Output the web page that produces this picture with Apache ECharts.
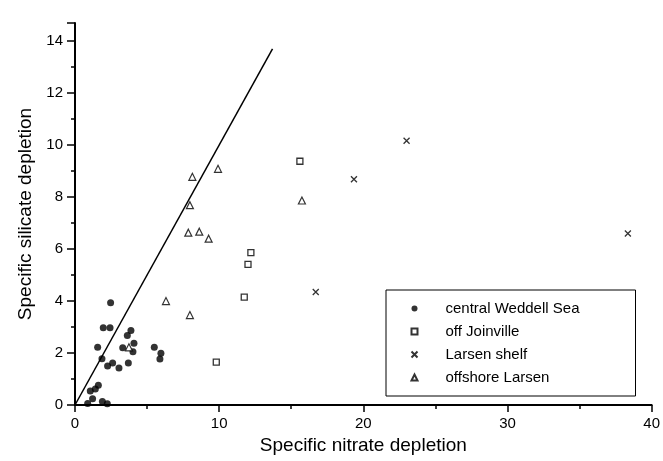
<!DOCTYPE html>
<html lang="en">
<head>
    <meta charset="UTF-8">
    <title>Specific silicate vs nitrate depletion</title>
    <style>
        *{
            margin: 0;
            padding: 0;
        }
        body{
            background: #fff;
        }
        #chart{
            width: 663px;
            height: 461px;
        }
    </style>
</head>
<body>
    <div id="chart"></div>
    <script src="https://cdn.jsdelivr.net/npm/echarts@6/dist/echarts.min.js"></script>
    <script>
        // [nitrate, silicate]
        var weddell = [
            [2.47, 3.93], [1.96, 2.97], [2.43, 2.97], [3.88, 2.87], [3.63, 2.67],
            [4.09, 2.38], [3.31, 2.20], [1.57, 2.22], [4.02, 2.05], [5.50, 2.22],
            [5.96, 1.99], [5.89, 1.77], [1.87, 1.78], [2.61, 1.62], [2.26, 1.50],
            [3.05, 1.42], [3.70, 1.62], [1.62, 0.76], [1.41, 0.62], [1.06, 0.54],
            [1.22, 0.24], [1.90, 0.13], [2.24, 0.05], [0.88, 0.06]
        ];
        var joinville = [[15.6, 9.38], [12.2, 5.86], [12.0, 5.41], [11.74, 4.15], [9.8, 1.65]];
        var larsenShelf = [[23.0, 10.17], [19.35, 8.69], [16.7, 4.35], [38.35, 6.6]];
        var offshoreLarsen = [
            [9.92, 9.09], [8.14, 8.78], [7.97, 7.69], [15.74, 7.87], [7.86, 6.63],
            [8.62, 6.67], [9.27, 6.40], [6.31, 4.0], [3.74, 2.22], [7.97, 3.46]
        ];
        // 1:1 reference line
        var ratioLine = [[0, 0], [13.7, 13.7]];
        var legendNames = ['central Weddell Sea', 'off Joinville', 'Larsen shelf', 'offshore Larsen'];

        var font = 'Liberation Sans, Arial, sans-serif';
        var chart = echarts.init(document.getElementById('chart'));

        var option = {
            animation: false,
            grid: {
                left: 75,
                right: 11,
                top: 23,
                bottom: 56
            },
            legend: {
                data: legendNames,
                orient: 'vertical',
                left: 386,
                top: 290,
                itemWidth: 6,
                itemHeight: 6,
                itemGap: 6,
                padding: [10, 30, 10, 23],
                borderColor: '#000',
                borderWidth: 1,
                selectedMode: false,
                textStyle: {
                    fontFamily: font,
                    fontSize: 15,
                    color: '#000',
                    lineHeight: 17,
                    width: 160,
                    padding: [0, 0, 0, 23]
                }
            },
            xAxis: {
                type: 'value',
                min: 0,
                max: 40,
                interval: 10,
                name: 'Specific nitrate depletion',
                nameLocation: 'middle',
                nameGap: 29,
                nameTextStyle: { fontFamily: font, fontSize: 19, color: '#000' },
                splitLine: { show: false },
                axisLine: { onZero: false, lineStyle: { color: '#000', width: 2 } },
                axisTick: { length: 7, lineStyle: { color: '#000', width: 1.5 } },
                minorTick: { show: true, splitNumber: 2, length: 4, lineStyle: { color: '#000', width: 1.5 } },
                axisLabel: { fontFamily: font, fontSize: 15, color: '#000', margin: 11 }
            },
            yAxis: {
                type: 'value',
                min: 0,
                max: 14.7,
                interval: 2,
                name: 'Specific silicate depletion',
                nameLocation: 'middle',
                nameGap: 36,
                nameTextStyle: { fontFamily: font, fontSize: 19, color: '#000' },
                splitLine: { show: false },
                axisLine: { onZero: false, lineStyle: { color: '#000', width: 2 } },
                axisTick: { length: 8, lineStyle: { color: '#000', width: 1.5 } },
                minorTick: { show: true, splitNumber: 2, length: 4, lineStyle: { color: '#000', width: 1.5 } },
                axisLabel: { fontFamily: font, fontSize: 15, color: '#000', margin: 12, showMaxLabel: false }
            },
            series: [
                {
                    name: 'central Weddell Sea',
                    type: 'scatter',
                    data: weddell,
                    symbol: 'circle',
                    symbolSize: 7,
                    itemStyle: { color: '#000' }
                },
                {
                    name: 'off Joinville',
                    type: 'scatter',
                    data: joinville,
                    symbol: 'rect',
                    symbolSize: 6,
                    itemStyle: { color: '#fff', borderColor: '#000', borderWidth: 1.3 }
                },
                {
                    name: 'Larsen shelf',
                    type: 'scatter',
                    data: larsenShelf,
                    symbol: 'path://M0,0L10,10M10,0L0,10',
                    symbolSize: 6,
                    itemStyle: { color: 'none', borderColor: '#000', borderWidth: 1.3 }
                },
                {
                    name: 'offshore Larsen',
                    type: 'scatter',
                    data: offshoreLarsen,
                    symbol: 'triangle',
                    symbolSize: 7,
                    itemStyle: { color: '#fff', borderColor: '#000', borderWidth: 1.2 }
                },
                {
                    name: 'ratio',
                    type: 'line',
                    data: ratioLine,
                    symbol: 'none',
                    silent: true,
                    z: 1,
                    lineStyle: { color: '#000', width: 1.5 }
                }
            ]
        };

        chart.setOption(option);
    </script>
</body>
</html>
